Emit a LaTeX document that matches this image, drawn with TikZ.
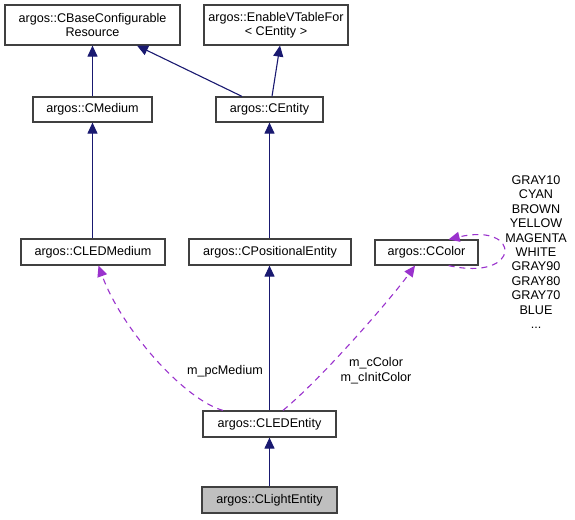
\documentclass[tikz,border=0pt]{standalone}
\usepackage{fontspec}
\setmainfont{Liberation Sans}
\usetikzlibrary{arrows.meta}
\definecolor{navyedge}{HTML}{191970}
\definecolor{purpedge}{HTML}{9A32CD}
\definecolor{boxline}{HTML}{404040}
\definecolor{boxgray}{HTML}{BFBFBF}
\tikzset{
  cls/.style={draw=boxline, line width=1.2pt, fill=white, rectangle, inner sep=0pt,
    font=\fontsize{12.6}{14.4}\selectfont, align=center},
  inh/.style={draw=navyedge, line width=1.1pt, -{Triangle[length=11pt,width=10pt,fill=navyedge]}},
  usage/.style={draw=purpedge, line width=1.1pt, dash pattern=on 6pt off 5pt,
    -{Triangle[length=11pt,width=10pt,fill=purpedge]}},
  lbl/.style={font=\fontsize{12.6}{14.4}\selectfont, align=center, inner sep=0pt}
}
\begin{document}
\begin{tikzpicture}[x=1pt,y=-1pt]
\useasboundingbox (0,0) rectangle (575,519);
\node[cls, minimum width=175pt, minimum height=40pt] (base) at (92.5,25) {argos::CBaseConfigurable\\Resource};
\node[cls, minimum width=144pt, minimum height=40pt] (evt) at (276,25) {argos::EnableVTableFor\\< CEntity >};
\node[cls, minimum width=119pt, minimum height=25pt] (medium) at (92.5,109.5) {argos::CMedium};
\node[cls, minimum width=107pt, minimum height=25pt] (entity) at (269.5,109.5) {argos::CEntity};
\node[cls, minimum width=144pt, minimum height=26pt] (ledmedium) at (93,252) {argos::CLEDMedium};
\node[cls, minimum width=162pt, minimum height=26pt] (pos) at (270,252) {argos::CPositionalEntity};
\node[cls, minimum width=103pt, minimum height=25pt] (color) at (426.5,252.5) {argos::CColor};
\node[cls, minimum width=133pt, minimum height=26pt] (ledentity) at (269.5,424) {argos::CLEDEntity};
\node[cls, minimum width=135pt, minimum height=26pt, fill=boxgray] (light) at (269.5,500) {argos::CLightEntity};

\draw[inh] (medium.north) -- (base.south);
\draw[inh] ([xshift=-27.5pt]entity.north) -- ([xshift=44.5pt]base.south);
\draw[inh] ([xshift=2.5pt]entity.north) -- ([xshift=4pt]evt.south);
\draw[inh] ([xshift=-0.5pt]ledmedium.north) -- (medium.south);
\draw[inh] ([xshift=-0.5pt]pos.north) -- (entity.south);
\draw[inh] (ledentity.north) -- (ledentity.north |- pos.south);
\draw[inh] (light.north) -- (ledentity.south);

\draw[usage] ([xshift=-46.5pt]ledentity.north) .. controls (185,400) and (122,330) .. ([xshift=5.5pt]ledmedium.south);
\draw[usage] ([xshift=13.5pt]ledentity.north) .. controls (322,378) and (390,300) .. ([xshift=-11.5pt]color.south);
\draw[usage] ([xshift=-30pt]color.south east) .. controls (522,282) and (522,222) .. ([xshift=-30pt]color.north east);

\node[lbl] (lmed) at (225,371) {m\_pcMedium};
\node[lbl] (lcol) at (376,370.5) {m\_cColor\\m\_cInitColor};
\node[lbl] (lself) at (536,252) {GRAY10\\CYAN\\BROWN\\YELLOW\\MAGENTA\\WHITE\\GRAY90\\GRAY80\\GRAY70\\BLUE\\...};
\end{tikzpicture}
\end{document}
